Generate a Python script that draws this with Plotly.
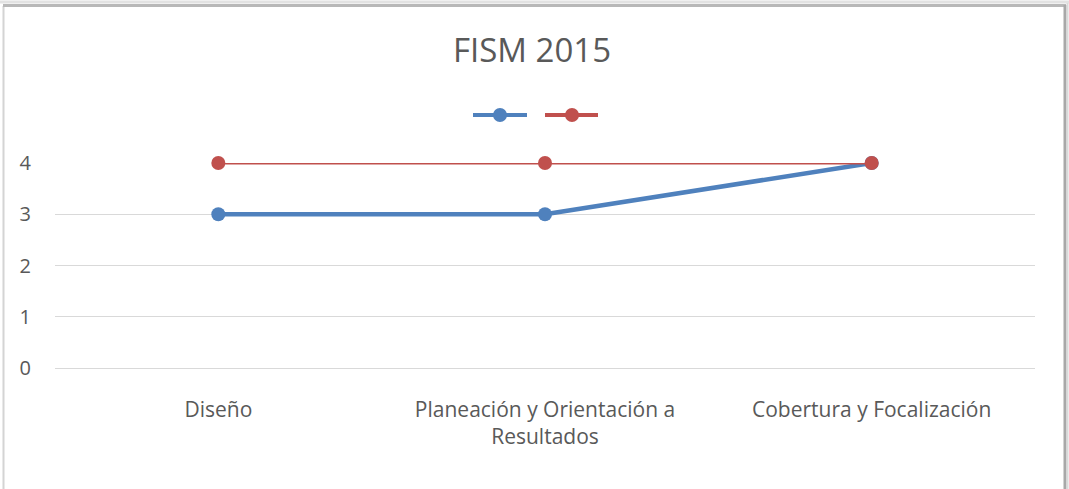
import plotly.graph_objects as go

categories = ["Diseño", "Planeación y Orientación a<br>Resultados", "Cobertura y Focalización"]
serie_azul = [3, 3, 4]
serie_roja = [4, 4, 4]
y_ticks = [0, 1, 2, 3, 4]
colores = ["#4F81BD", "#C0504D"]

fig = go.Figure()
fig.add_trace(go.Scatter(x=categories, y=serie_azul, mode="lines+markers", name=" ",
                         line=dict(color=colores[0], width=4.5),
                         marker=dict(size=14, color=colores[0]), cliponaxis=False,
                         showlegend=False))
fig.add_trace(go.Scatter(x=categories, y=serie_roja, mode="lines+markers", name=" ",
                         line=dict(color=colores[1], width=3),
                         marker=dict(size=14, color=colores[1]), cliponaxis=False,
                         showlegend=False))

# Legend (symbols only, as in the reference)
def px_x(p):
    return (p - 55) / 980.0

leg_y = (368 - 115) / 205.0
legend_shapes = []
for (x0, x1, xc), col in zip([(473, 527, 500), (545, 598, 572)], colores):
    legend_shapes.append(dict(type="line", xref="paper", yref="paper",
                              x0=px_x(x0), x1=px_x(x1), y0=leg_y, y1=leg_y,
                              line=dict(color=col, width=4)))
    legend_shapes.append(dict(type="circle", xref="paper", yref="paper",
                              xsizemode="pixel", ysizemode="pixel",
                              xanchor=px_x(xc), yanchor=leg_y,
                              x0=-7, x1=7, y0=-7, y1=7,
                              fillcolor=col, line=dict(color=col, width=0)))

frame = [
    dict(type="line", xref="paper", yref="paper", x0=px_x(3.5), x1=px_x(3.5), y0=-0.7, y1=(368 - 6) / 205,
         line=dict(color="#D4D4D4", width=2), layer="below"),
    dict(type="line", xref="paper", yref="paper", x0=px_x(0), x1=px_x(1069), y0=(368 - 2) / 205, y1=(368 - 2) / 205,
         line=dict(color="#E2E2E2", width=3), layer="below"),
    dict(type="line", xref="paper", yref="paper", x0=px_x(3), x1=px_x(1066), y0=(368 - 5.5) / 205, y1=(368 - 5.5) / 205,
         line=dict(color="#B8B8B8", width=3), layer="below"),
    dict(type="line", xref="paper", yref="paper", x0=px_x(1065), x1=px_x(1065), y0=-0.7, y1=(368 - 5) / 205,
         line=dict(color="#A8A8A8", width=3), layer="below"),
    dict(type="line", xref="paper", yref="paper", x0=px_x(1067.5), x1=px_x(1067.5), y0=-0.7, y1=(368 - 3) / 205,
         line=dict(color="#DADADA", width=2), layer="below"),
]

fig.update_layout(
    width=1069, height=489,
    margin=dict(l=55, r=34, t=163, b=121),
    paper_bgcolor="white", plot_bgcolor="white",
    font=dict(family="Open Sans", color="#595959", size=21),
    title=dict(text="FISM 2015", x=532 / 1069, xref="container", xanchor="center",
               y=1 - 50 / 489, yanchor="middle",
               font=dict(size=33, color="#595959")),
    showlegend=False,
    xaxis=dict(range=[-0.5, 2.5], showgrid=False, showline=False, ticks="",
               tickfont=dict(size=21, color="#595959"), ticklabelstandoff=27),
    yaxis=dict(range=[0, 4], tickvals=y_ticks, showgrid=True, gridcolor="#D9D9D9",
               gridwidth=1, zeroline=True, zerolinecolor="#D9D9D9", zerolinewidth=1,
               showline=False, ticks="",
               tickfont=dict(size=20, color="#595959"), ticklabelstandoff=23),
    shapes=frame + legend_shapes,
)

fig.write_html("out.html", config={"displayModeBar": False},
               post_script="document.body.style.margin='0';")
